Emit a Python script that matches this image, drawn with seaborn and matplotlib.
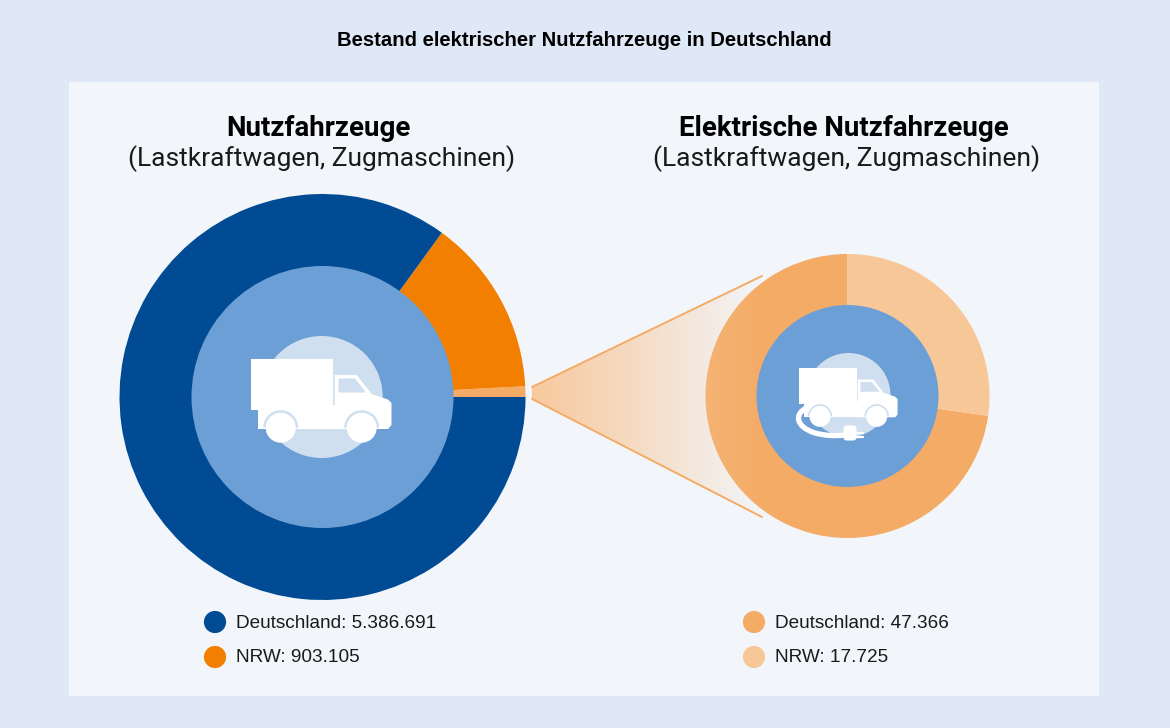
import matplotlib
matplotlib.use("Agg")
import matplotlib.pyplot as plt
import numpy as np
import pandas as pd
import seaborn as sns
from matplotlib.colors import to_rgb
from matplotlib.patches import Circle, FancyBboxPatch, PathPatch, Polygon, Rectangle, Wedge
from matplotlib.path import Path

# data
title = "Bestand elektrischer Nutzfahrzeuge in Deutschland"
left_heading = "Nutzfahrzeuge"
right_heading = "Elektrische Nutzfahrzeuge"
sub_heading = "(Lastkraftwagen, Zugmaschinen)"
# left ring: angles, in percent of the circle
left_shares = [0.85, 14.15, 85.0]
right_values = [47366, 17725]
legend_labels = ["Deutschland: 5.386.691", "NRW: 903.105", "Deutschland: 47.366", "NRW: 17.725"]

# colours
page_bg = "#dfe8f6"
panel_bg = "#f2f6fb"
dark_blue = "#004b93"
mid_blue = "#6c9fd5"
pale_blue = "#cfdff0"
orange = "#f37f00"
peach = "#f4ab66"
light_peach = "#f8c798"
left_colors = [peach, orange, dark_blue]
right_colors = [peach, light_peach]
legend_colors = [dark_blue, orange, peach, light_peach]

sns.set_theme(style="white")
plt.rcParams["font.family"] = ["Liberation Sans", "DejaVu Sans"]

fig = plt.figure(figsize=(11.7, 7.28), dpi=100, facecolor=page_bg)
ax = fig.add_axes([0, 0, 1, 1])
ax.set_xlim(0, 1170)
ax.set_ylim(728, 0)
ax.set_aspect("equal")
ax.axis("off")

ax.add_patch(Rectangle((69, 82), 1030, 614, fc=panel_bg, ec="none", zorder=0))

# rings, y axis is flipped so clockwise here looks counterclockwise
ax.pie(left_shares, colors=left_colors, center=(322.5, 397), radius=203, startangle=0,
       counterclock=False, frame=True, wedgeprops={"linewidth": 0})
ax.pie(right_values, colors=right_colors, center=(847.5, 396), radius=142, startangle=-90,
       counterclock=False, frame=True, wedgeprops={"linewidth": 0})
ax.set_xlim(0, 1170)
ax.set_ylim(728, 0)
ax.axis("off")

ax.add_patch(Circle((322.5, 397), 131, fc=mid_blue, ec="none", zorder=3))
ax.add_patch(Circle((847.5, 396), 91, fc=mid_blue, ec="none", zorder=3))


# truck icon, drawn in the pixel frame of the big one and scaled
def truck(ox, oy, k, halo):
    def pt(x, y):
        return ox + (x - 250.7) * k, oy + (y - 359) * k

    ax.add_patch(Circle(halo[:2], halo[2], fc=pale_blue, ec="none", zorder=4))
    ax.add_patch(Polygon([pt(250.7, 359), pt(333.3, 359), pt(333.3, 410), pt(250.7, 410)],
                         fc="white", ec="none", zorder=5))
    ax.add_patch(Polygon([pt(258, 405), pt(335, 405), pt(335, 429), pt(258, 429)],
                         fc="white", ec="none", zorder=5))
    cab = [pt(334.7, 375), pt(356.7, 375), pt(371.7, 394), pt(388, 399.5), pt(391.5, 403),
           pt(391.5, 425), pt(388, 429), pt(334.7, 429)]
    ax.add_patch(Polygon(cab, fc="white", ec="none", zorder=5))
    ax.add_patch(Polygon([pt(338.5, 378.5), pt(355, 378.5), pt(366, 392.5), pt(338.5, 392.5)],
                         fc=pale_blue, ec="none", zorder=6))
    for wx in [280.7, 361.7]:
        # only the top of the wheel arch shows as a pale rim
        ax.add_patch(Wedge(pt(wx, 427.7), 17.5 * k, 180, 360, fc=pale_blue, ec="none", zorder=6))
        ax.add_patch(Circle(pt(wx, 427.7), 15 * k, fc="white", ec="none", zorder=7))


truck(250.7, 359, 1, (321.7, 397, 61))
truck(799, 368.3, 0.7, (848.5, 395, 42))

# cable and plug of the electric truck
cable = Path([(808, 407), (793, 414), (796, 427), (815, 433), (830, 437), (845, 435)],
             [Path.MOVETO, Path.CURVE4, Path.CURVE4, Path.CURVE4, Path.CURVE3, Path.CURVE3])
ax.add_patch(PathPatch(cable, fc="none", ec="white", lw=3.8, capstyle="round", zorder=6))
ax.add_patch(FancyBboxPatch((845, 427), 10, 12, boxstyle="round,pad=1.5,rounding_size=3.5",
                            fc="white", ec="none", zorder=7))
ax.plot([856, 863], [432.5, 432.5], color="white", lw=1.7, zorder=7)
ax.plot([856, 863], [437, 437], color="white", lw=1.7, zorder=7)

# funnel between the rings
funnel = [(532, 387), (762, 276), (762, 517), (532, 399)]
fade = np.ones((2, 230, 4))
fade[:, :, :3] = to_rgb(light_peach)
fade[:, :, 3] = np.linspace(0.95, 0, 230) ** 0.9
img = ax.imshow(fade, extent=(532, 762, 517, 276), aspect="auto", zorder=1)
clip = Polygon(funnel, transform=ax.transData, fc="none", ec="none")
ax.add_patch(clip)
img.set_clip_path(clip)
ax.plot([532, 762], [387, 276], color=peach, lw=1.4, zorder=2)
ax.plot([532, 762], [399, 517], color=peach, lw=1.4, zorder=2)
ax.set_xlim(0, 1170)
ax.set_ylim(728, 0)

# legend dots
dots = pd.DataFrame({"x": [215, 215, 754, 754], "y": [622, 657, 622, 657], "label": legend_labels})
sns.scatterplot(data=dots, x="x", y="y", hue="label", palette=legend_colors, hue_order=legend_labels,
                s=255, linewidth=0, legend=False, ax=ax, zorder=3)
ax.axis("off")
for lab, lx, ly in zip(legend_labels, [236, 236, 775, 775], [623, 658, 623, 658]):
    ax.text(lx, ly, lab, fontsize=13.7, color="#1a1a1a", va="center", ha="left")

# texts
ax.text(584, 40.5, title, fontsize=14.55, fontweight="bold", color="black", ha="center", va="center")
ax.text(318.5, 128, left_heading, fontsize=19.9, fontweight="bold", color="black", ha="center", va="center", family="Roboto")
ax.text(321.5, 159, sub_heading, fontsize=19, color="#1a1a1a", ha="center", va="center", family="Roboto")
ax.text(843.5, 128, right_heading, fontsize=19.9, fontweight="bold", color="black", ha="center", va="center", family="Roboto")
ax.text(847, 159, sub_heading, fontsize=19, color="#1a1a1a", ha="center", va="center", family="Roboto")

fig.savefig("out.png", dpi=100, facecolor=page_bg)
